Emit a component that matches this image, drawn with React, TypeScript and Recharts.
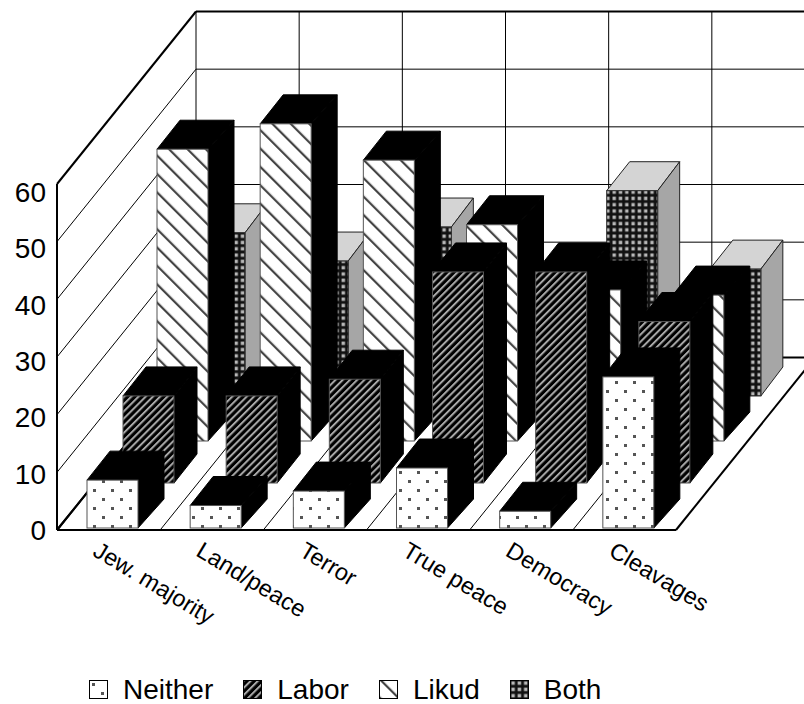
import React from 'react';
import { BarChart, Bar, XAxis, YAxis, Legend, Customized } from 'recharts';

const categories = ['Jew. majority', 'Land/peace', 'Terror', 'True peace', 'Democracy', 'Cleavages'];
const neither = [8.3, 3.9, 6.4, 10.4, 2.9, 26.2];
const labor = [15.1, 15.1, 18, 36.6, 36.6, 28];
const likud = [50.6, 55, 48.7, 37.5, 26.2, 25.3];
const both = [28.3, 23.4, 29.3, 18, 35.6, 22];
const yTicks = [0, 10, 20, 30, 40, 50, 60];

const data = categories.map((name, i) => ({
  name,
  Neither: neither[i],
  Labor: labor[i],
  Likud: likud[i],
  Both: both[i],
}));

const WIDTH = 804;
const HEIGHT = 704;
const LEFT = 57;
const RIGHT = 676;
const TOP = 184;
const BOTTOM = 530;
const BACK_DX = 139;
const BACK_DY = 172.5;
const BAR_W = 51;
const FONT = '"Liberation Sans", Arial, sans-serif';

const seriesStyles: Record<string, any> = {
  Neither: { fill: 'url(#pNeither)', dx: 4, dy: -2, top: '#000', side: '#000', edge: '#555', faceEdge: '#000', sideDx: 26 },
  Labor: { fill: 'url(#pLabor)', dx: 40, dy: -47, top: '#000', side: '#000', edge: '#555', faceEdge: '#000', sideDx: 23 },
  Likud: { fill: 'url(#pLikud)', dx: 74, dy: -89, top: '#000', side: '#000', edge: '#555', faceEdge: '#000', sideDx: 26 },
  Both: { fill: 'url(#pBoth)', dx: 111, dy: -134, top: '#d4d4d4', side: '#a6a6a6', edge: '#333', faceEdge: '#222', sideDx: 22 },
};
const legendOrder = ['Neither', 'Labor', 'Likud', 'Both'];

function Bar3D(props: any) {
  const { x, y, width, height, seriesName } = props;
  const s = seriesStyles[seriesName];
  const l = x + s.dx;
  const r = l + width;
  const t = y + s.dy;
  const b = t + height;
  const dx0 = 23;
  const d = 29;
  return (
    <g>
      <polygon
        points={`${l},${t} ${l + dx0},${t - d} ${r + s.sideDx},${t - d} ${r},${t}`}
        fill={s.top}
        stroke={s.faceEdge}
      />
      <polygon
        points={`${r},${t} ${r + s.sideDx},${t - d} ${r + s.sideDx},${b - d} ${r},${b}`}
        fill={s.side}
        stroke={s.faceEdge}
      />
      <rect x={l} y={t} width={width} height={height} fill={s.fill} stroke={s.edge} />
    </g>
  );
}

function Walls() {
  const unit = (BOTTOM - TOP) / 60;
  const step = (RIGHT - LEFT) / 6;
  const lines: React.ReactNode[] = [];
  yTicks.forEach((v) => {
    const y = BOTTOM - v * unit;
    const edge = v === 0 || v === 60;
    lines.push(
      <line key={`h${v}`} x1={LEFT + BACK_DX} y1={y - BACK_DY} x2={WIDTH} y2={y - BACK_DY} stroke="#000" strokeWidth={edge ? 2 : 1} />,
      <line key={`d${v}`} x1={LEFT} y1={y} x2={LEFT + BACK_DX} y2={y - BACK_DY} stroke="#000" strokeWidth={edge ? 2 : 1} />,
    );
  });
  for (let k = 0; k <= 6; k++) {
    const x = LEFT + k * step;
    lines.push(
      <line key={`v${k}`} x1={x + BACK_DX} y1={TOP - BACK_DY} x2={x + BACK_DX} y2={BOTTOM - BACK_DY} stroke="#000" />,
      <line key={`f${k}`} x1={x} y1={BOTTOM} x2={x + BACK_DX} y2={BOTTOM - BACK_DY} stroke="#000" strokeWidth={k === 0 || k === 6 ? 2 : 1} />,
    );
  }
  return <g>{lines}</g>;
}

function YTick(props: any) {
  const { y, payload } = props;
  // the printed numbers sit a little closer together than the grid lines
  const shift = (payload.value / 60) * 8;
  return (
    <text x={46} y={y + shift + 10} textAnchor="end" fontSize={28} fontFamily={FONT} fill="#000">
      {payload.value}
    </text>
  );
}

function XTick(props: any) {
  const { x, payload } = props;
  return (
    <text
      x={x - 17}
      y={BOTTOM + 25}
      textAnchor="start"
      fontSize={23.5}
      fontFamily={FONT}
      fill="#000"
      transform={`rotate(31 ${x - 17} ${BOTTOM + 25})`}
    >
      {payload.value}
    </text>
  );
}

function ChartLegend() {
  return (
    <div style={{ display: 'flex', gap: 30, fontFamily: FONT, fontSize: 28, lineHeight: '32px', color: '#000' }}>
      {legendOrder.map((name) => (
        <div key={name} style={{ display: 'flex', alignItems: 'center', gap: 14 }}>
          <svg width={20} height={20} style={{ display: 'block' }}>
            <rect x={0.5} y={0.5} width={18} height={18} fill={seriesStyles[name].fill} stroke="#000" />
          </svg>
          <span>{name}</span>
        </div>
      ))}
    </div>
  );
}

export default function App() {
  return (
    <div style={{ position: 'absolute', left: 0, top: 0, width: WIDTH, height: HEIGHT, overflow: 'hidden', background: '#fff' }}>
      <BarChart
        width={WIDTH}
        height={HEIGHT}
        data={data}
        barSize={BAR_W}
        barGap={-BAR_W}
        margin={{ top: TOP, right: WIDTH - RIGHT, bottom: 0, left: 0 }}
      >
        <defs>
          <pattern id="pNeither" width={18} height={18} patternUnits="userSpaceOnUse">
            <rect width={18} height={18} fill="#fff" />
            <rect x={3} y={3} width={3} height={3} fill="#555" />
            <rect x={12} y={12} width={3} height={3} fill="#555" />
          </pattern>
          <pattern id="pLabor" width={5.1} height={5.1} patternUnits="userSpaceOnUse" patternTransform="rotate(45)">
            <rect width={5.1} height={5.1} fill="#000" />
            <rect x={0} y={0} width={2} height={5.1} fill="#a8a8a8" />
          </pattern>
          <pattern id="pLikud" width={13} height={13} patternUnits="userSpaceOnUse" patternTransform="rotate(-45)">
            <rect width={13} height={13} fill="#fff" />
            <rect x={0} y={0} width={2.2} height={13} fill="#444" />
          </pattern>
          <pattern id="pBoth" width={6.3} height={6.3} patternUnits="userSpaceOnUse">
            <rect width={6.3} height={6.3} fill="#111" />
            <rect x={1.4} y={1.4} width={3.4} height={3.4} fill="#b8b8b8" />
          </pattern>
        </defs>
        <Customized component={Walls} />
        <XAxis
          dataKey="name"
          height={HEIGHT - BOTTOM}
          interval={0}
          tickLine={false}
          axisLine={{ stroke: '#000', strokeWidth: 2 }}
          tick={<XTick />}
        />
        <YAxis
          width={LEFT}
          domain={[0, 60]}
          ticks={yTicks}
          interval={0}
          tickLine={false}
          axisLine={{ stroke: '#000', strokeWidth: 2 }}
          tick={<YTick />}
        />
        {['Both', 'Likud', 'Labor', 'Neither'].map((name) => (
          <Bar
            key={name}
            dataKey={name}
            isAnimationActive={false}
            shape={(p: any) => <Bar3D {...p} seriesName={name} />}
          />
        ))}
        <Legend
          layout="horizontal"
          verticalAlign="middle"
          align="center"
          content={<ChartLegend />}
          wrapperStyle={{ position: 'absolute', left: 89, top: 674, width: 'auto', margin: 0 }}
        />
      </BarChart>
    </div>
  );
}
